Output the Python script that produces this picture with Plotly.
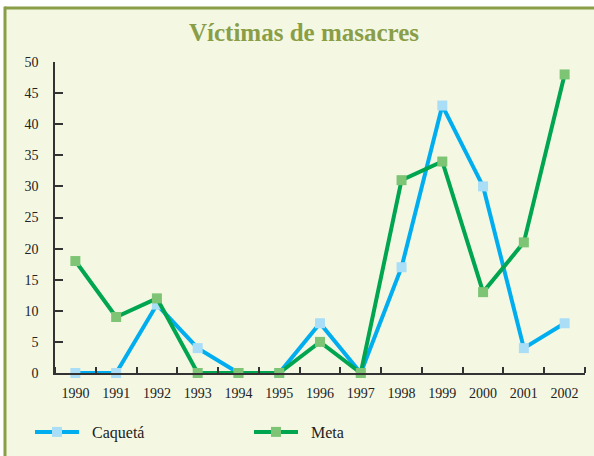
import plotly.graph_objs as go

years = list(range(1990, 2003))
caqueta = [0, 0, 11, 4, 0, 0, 8, 0, 17, 43, 30, 4, 8]
meta = [18, 9, 12, 0, 0, 0, 5, 0, 31, 34, 13, 21, 48]
y_ticks = [0, 5, 10, 15, 20, 25, 30, 35, 40, 45, 50]

blue_line = '#00AEEF'
blue_mark = '#AADDF6'
green_line = '#00A550'
green_mark = '#7DC475'
olive = '#8A9E48'
cream = '#F4F8E3'
serif = 'Liberation Serif, Times New Roman, serif'

W, H = 594, 456
ml, mr, mt, mb = 55, 9, 62, 83
pw, ph = W - ml - mr, H - mt - mb

def px_x(p):
    return (p - ml) / pw

def px_y(p):
    return 1 + (mt - p) / ph

caq_go = go.Scatter(
    x=years, y=caqueta, name='\u00a0\u00a0Caquetá', mode='lines+markers',
    line=dict(color=blue_line, width=4),
    marker=dict(symbol='square', size=10, color=blue_mark),
    cliponaxis=False,
)
meta_go = go.Scatter(
    x=years, y=meta, name='\u00a0\u00a0Meta', mode='lines+markers',
    line=dict(color=green_line, width=4),
    marker=dict(symbol='square', size=10, color=green_mark),
    cliponaxis=False,
)

# cream panel with an olive frame on its left and top edges
frame = [
    dict(type='rect', xref='paper', yref='paper', layer='below',
         x0=px_x(5), x1=px_x(W + 20), y0=px_y(H + 20), y1=px_y(8),
         fillcolor=cream, line=dict(width=0)),
    dict(type='line', xref='paper', yref='paper', layer='below',
         x0=px_x(5), x1=px_x(W + 20), y0=px_y(8), y1=px_y(8),
         line=dict(color=olive, width=3)),
    dict(type='line', xref='paper', yref='paper', layer='below',
         x0=px_x(5), x1=px_x(5), y0=px_y(6.5), y1=px_y(H + 20),
         line=dict(color=olive, width=3)),
]

layout = go.Layout(
    width=W, height=H,
    margin=dict(l=ml, r=mr, t=mt, b=mb),
    paper_bgcolor='white',
    plot_bgcolor='rgba(0,0,0,0)',
    font=dict(family=serif, size=14, color='#222222'),
    title=dict(text='<b>Víctimas de masacres</b>', font=dict(family=serif, size=25, color=olive),
               xref='container', x=304 / W, xanchor='center',
               yref='container', y=1 - 32 / H, yanchor='middle'),
    xaxis=dict(range=[1989.5, 2002.5], tickvals=years, ticks='', showgrid=False, zeroline=False,
               showline=True, linecolor='#333333', linewidth=1.5, ticklabelstandoff=6, automargin=False,
               minor=dict(tickvals=[y + 0.5 for y in range(1989, 2003)], ticks='inside',
                          ticklen=6, tickwidth=1.5, tickcolor='#333333', showgrid=False),
               tickfont=dict(size=14)),
    yaxis=dict(range=[0, 50], tickvals=y_ticks, ticks='inside', ticklen=8, tickwidth=1.5,
               tickcolor='#333333', showgrid=False, zeroline=False, showline=True, automargin=False,
               linecolor='#333333', linewidth=1.5, ticklabelstandoff=12, tickfont=dict(size=14)),
    showlegend=True,
    legend=dict(orientation='h', xref='container', yref='container', x=30 / W, xanchor='left',
                y=1 - 432 / H, yanchor='middle', itemwidth=44, entrywidth=160, entrywidthmode='pixels',
                font=dict(size=16), bgcolor='rgba(0,0,0,0)'),
    shapes=frame,
)

fig = go.Figure(data=[caq_go, meta_go], layout=layout)
fig.write_html('out.html', config={'displayModeBar': False},
               post_script="document.body.style.margin='0';document.body.style.overflow='hidden';")
